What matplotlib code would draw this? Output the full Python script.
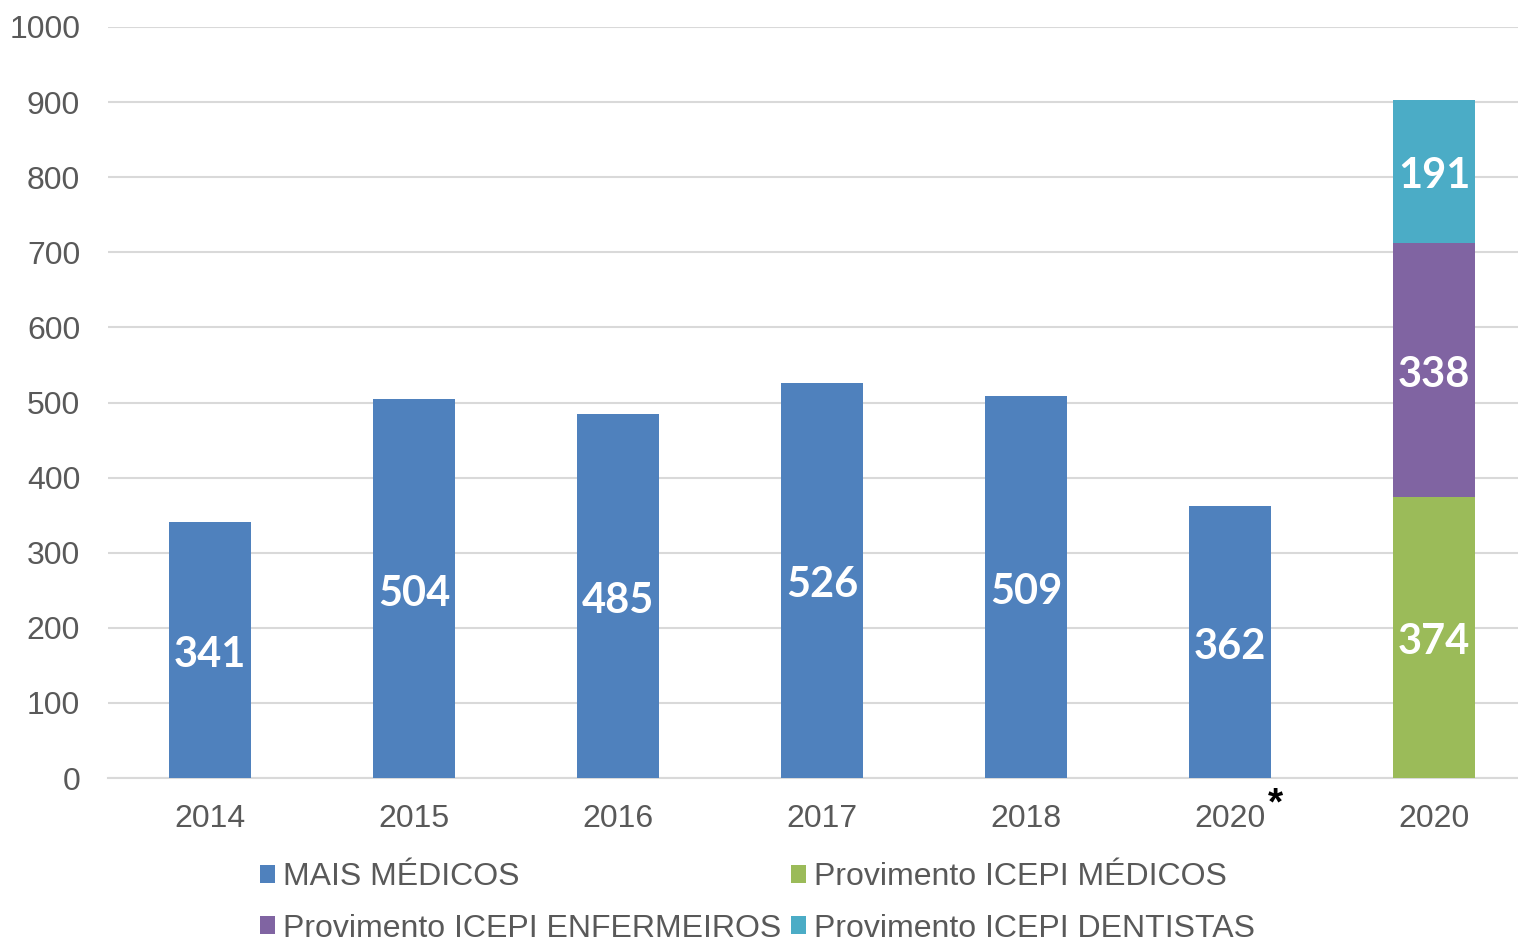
import matplotlib
matplotlib.use("Agg")
import matplotlib.pyplot as plt
from matplotlib.patches import Patch
import numpy as np

categories = ["2014", "2015", "2016", "2017", "2018", "2020", "2020"]
mais_medicos = [341, 504, 485, 526, 509, 362, 0]
icepi_medicos = [0, 0, 0, 0, 0, 0, 374]
icepi_enfermeiros = [0, 0, 0, 0, 0, 0, 338]
icepi_dentistas = [0, 0, 0, 0, 0, 0, 191]
series_names = ["MAIS MÉDICOS", "Provimento ICEPI MÉDICOS",
                "Provimento ICEPI ENFERMEIROS", "Provimento ICEPI DENTISTAS"]
colors = ["#4F81BD", "#9BBB59", "#8064A2", "#4BACC6"]
yticks = [0, 100, 200, 300, 400, 500, 600, 700, 800, 900, 1000]

W, H = 1518, 942
fig = plt.figure(figsize=(W / 100, H / 100), dpi=100)
ax = fig.add_axes([108 / W, 1 - 778 / H, 1428 / W, (778 - 27) / H])

x = np.arange(len(categories))
width = 0.40
series = [mais_medicos, icepi_medicos, icepi_enfermeiros, icepi_dentistas]
bottom = np.zeros(len(categories))
label_font = dict(family=["Lato", "DejaVu Sans"], fontweight="bold", fontsize=30, color="white")
for vals, col in zip(series, colors):
    vals = np.array(vals, dtype=float)
    ax.bar(x, vals, width, bottom=bottom, color=col, zorder=3)
    for xi, v, b in zip(x, vals, bottom):
        if v > 0:
            ax.annotate(f"{int(v)}", xy=(xi, b + v / 2), xytext=(0, -3.5), textcoords="offset points",
                        ha="center", va="center", zorder=4, **label_font)
    bottom = bottom + vals

ax.set_xlim(-0.5, len(categories) - 0.5)
ax.set_ylim(0, 1000)
ax.set_yticks(yticks)
ax.set_xticks(x)
ax.set_xticklabels(categories)
ax.grid(axis="y", color="#D9D9D9", linewidth=1.5, zorder=0)
for s in ["top", "right", "left"]:
    ax.spines[s].set_visible(False)
ax.spines["bottom"].set_color("#D9D9D9")
ax.spines["bottom"].set_linewidth(1.5)
ax.tick_params(axis="both", length=0, labelsize=23, labelcolor="#595959")
ax.tick_params(axis="x", pad=19)
ax.tick_params(axis="y", pad=20)
for lab in ax.get_xticklabels() + ax.get_yticklabels():
    lab.set_family(["Liberation Sans", "DejaVu Sans"])

# asterisk next to the first 2020 label
ax.annotate("*", xy=(5, 0), xycoords="data", xytext=(33, -6), textcoords="offset points",
            ha="center", va="top", fontsize=28, fontweight="bold", color="black",
            family=["Liberation Sans", "DejaVu Sans"])

handles = [Patch(facecolor=c, edgecolor="none") for c in colors]
order = [0, 2, 1, 3]
leg = fig.legend([handles[i] for i in order], [series_names[i] for i in order],
                 ncol=2, loc="upper left", bbox_to_anchor=(260 / W, 1 - 862 / H),
                 frameon=False, prop={"family": ["Liberation Sans", "DejaVu Sans"], "size": 23},
                 handlelength=0.48, handleheight=0.48, handletextpad=0.25,
                 columnspacing=0.3, labelspacing=0.68, borderpad=0, borderaxespad=0)
for t in leg.get_texts():
    t.set_color("#595959")

fig.savefig("out.png", dpi=100)
